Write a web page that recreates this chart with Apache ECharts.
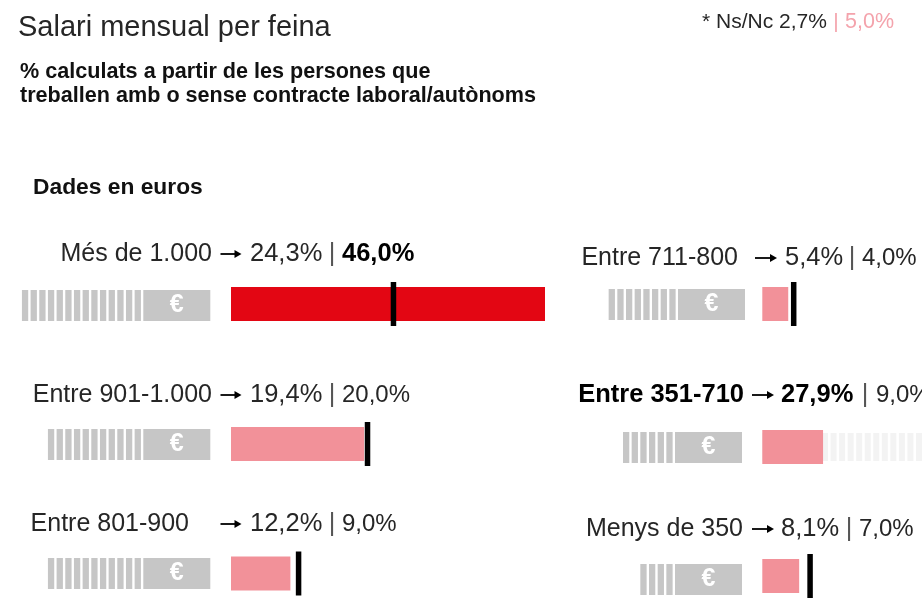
<!DOCTYPE html>
<html><head><meta charset="utf-8">
<style>html,body{margin:0;padding:0;background:#fff}#c{width:922px;height:601px}</style>
<script src="https://cdn.jsdelivr.net/npm/echarts@6/dist/echarts.min.js"></script>
</head><body><div id="c"></div>
<script>
// Categories and printed figures
const categories = ['Més de 1.000','Entre 901-1.000','Entre 801-900','Entre 711-800','Entre 351-710','Menys de 350'];
const firstLabels = ['24,3%','19,4%','12,2%','5,4%','27,9%','8,1%'];
const secondLabels = ['46,0%','20,0%','9,0%','4,0%','9,0%','7,0%'];
// Lengths as drawn in the picture, which differ a little from the printed figures
const barValues = [46.0,19.5,8.7,3.8,8.9,5.4];
const tickValues = [23.8,20.0,9.9,4.6,27.9,7.0];
const fadedTrack = [null,null,null,null,27.9,null];
const banknoteStripes = [14,11,11,8,6,4];
const barColors = ['#e30613','#f29199','#f29199','#f29199','#f29199','#f29199'];

// Layout
const FONT = '"Liberation Sans", Arial, sans-serif';
const INK = '#262626';
const PX_PER_UNIT = 314/46;
const STRIPE_PX = 8.67, SOLID_PX = 67;
const rows = [
  {cx:231,w:314,cy:304,ix:143.3,iy:290,nameR:212,ay:254,arrow:220.5,aw:21,v1:250,sep:332,v2:342},
  {cx:231,w:314,cy:444,ix:143.3,iy:429,nameR:212,ay:395,arrow:220.5,aw:21,v1:250,sep:332,v2:342},
  {cx:231,w:314,cy:573.5,ix:143.3,iy:558,nameR:189,ay:524,arrow:220.5,aw:21,v1:250,sep:332,v2:342},
  {cx:762.3,w:159.7,cy:304,ix:678,iy:289,nameR:738,ay:258,arrow:755,aw:22,v1:785,sep:852,v2:862},
  {cx:762.3,w:159.7,cy:447,ix:675,iy:432,nameR:744,ay:395,arrow:752,aw:22,v1:781,sep:865,v2:876,bold:true},
  {cx:762.3,w:159.7,cy:576,ix:675,iy:564,nameR:743,ay:529,arrow:752,aw:22,v1:781,sep:849,v2:859}
];
const boldSecond = [true,false,false,false,false,false];

const grid=[],xAxis=[],yAxis=[],series=[],graphic=[];
function text(t,x,y,size,o){
  graphic.push({type:'text',x:x,y:y,silent:true,style:Object.assign({text:t,fontFamily:FONT,fontSize:size,fill:INK,verticalAlign:'middle',align:'left'},o||{})});
}
function arrow(x,y,w){
  graphic.push({type:'line',silent:true,shape:{x1:x,y1:y,x2:x+w-4,y2:y},style:{stroke:'#000',lineWidth:1.8}});
  graphic.push({type:'polygon',silent:true,shape:{points:[[x+w-7,y-4],[x+w,y],[x+w-7,y+4]]},style:{fill:'#000'}});
}
categories.forEach((c,i)=>{
  const r=rows[i];
  // bar panel
  grid.push({left:r.cx,top:r.cy-22,width:r.w,height:44});
  xAxis.push({type:'value',gridIndex:2*i,min:0,max:r.w/PX_PER_UNIT,show:false});
  yAxis.push({type:'category',gridIndex:2*i,data:[c],show:false});
  if(fadedTrack[i]!=null) series.push({type:'pictorialBar',xAxisIndex:2*i,yAxisIndex:2*i,data:[fadedTrack[i]],symbol:'rect',symbolRepeat:true,symbolSize:[6,28],symbolMargin:1.33,symbolPosition:'start',itemStyle:{color:'#f3f3f3'},silent:true,z:1});
  series.push({type:'bar',xAxisIndex:2*i,yAxisIndex:2*i,data:[barValues[i]],barWidth:34,itemStyle:{color:barColors[i]},silent:true,z:2});
  series.push({type:'scatter',xAxisIndex:2*i,yAxisIndex:2*i,data:[[tickValues[i],c]],symbol:'rect',symbolSize:[5.5,44],itemStyle:{color:'#000',opacity:1},silent:true,z:3});
  // banknote pictogram
  const n=banknoteStripes[i];
  grid.push({left:r.ix-n*STRIPE_PX,top:r.iy,width:n*STRIPE_PX+SOLID_PX,height:31});
  xAxis.push({type:'value',gridIndex:2*i+1,min:-n,max:SOLID_PX/STRIPE_PX,show:false});
  yAxis.push({type:'category',gridIndex:2*i+1,data:[c],show:false});
  series.push({type:'custom',xAxisIndex:2*i+1,yAxisIndex:2*i+1,data:[[n,c]],silent:true,clip:false,encode:{x:0,y:1},
    renderItem:(p,api)=>{
      const count=api.value(0), kids=[];
      const cy=api.coord([0,c])[1], h=api.size([0,1])[1];
      const fill='#c6c6c6';
      for(let k=1;k<=count;k++){
        const a=api.coord([-k,c])[0];
        kids.push({type:'rect',shape:{x:a,y:cy-h/2,width:6.3,height:h},style:{fill}});
      }
      const s=api.coord([0,c])[0], e=api.coord([SOLID_PX/STRIPE_PX,c])[0];
      kids.push({type:'rect',shape:{x:s,y:cy-h/2,width:e-s,height:h},style:{fill}});
      kids.push({type:'text',x:(s+e)/2,y:cy,style:{text:'€',fontFamily:FONT,fontWeight:'bold',fontSize:25,fill:'#fff',align:'center',verticalAlign:'middle'}});
      return {type:'group',children:kids};
    }});
  // labels
  const S=25.5;
  text(c,r.nameR,r.ay,r.bold?S:25,{align:'right',fontWeight:r.bold?'bold':'normal',fill:r.bold?'#000':INK});
  arrow(r.arrow,r.ay,r.aw);
  text(firstLabels[i],r.v1,r.ay,S,{fontWeight:r.bold?'bold':'normal',fill:r.bold?'#000':INK});
  text('|',r.sep,r.ay,S,{align:'center',fill:'#555'});
  text(secondLabels[i],r.v2,r.ay,boldSecond[i]?S:24,{fontWeight:boldSecond[i]?'bold':'normal',fill:boldSecond[i]?'#000':INK});
});
text('Salari mensual per feina',18,28,29);
text('* Ns/Nc 2,7%',702,22,21);
text('|',836,22,21,{fill:'#f4a3ac',align:'center'});
text('5,0%',845,22,21.5,{fill:'#f4a3ac'});
text('% calculats a partir de les persones que',20,72,21.6,{fontWeight:'bold',fill:'#111'});
text('treballen amb o sense contracte laboral/autònoms',20,96,21.6,{fontWeight:'bold',fill:'#111'});
text('Dades en euros',33,188,22.8,{fontWeight:'bold',fill:'#111'});

const chart=echarts.init(document.getElementById('c'),null,{renderer:'canvas'});
chart.setOption({animation:false,backgroundColor:'#fff',grid,xAxis,yAxis,series,graphic});
</script></body></html>
